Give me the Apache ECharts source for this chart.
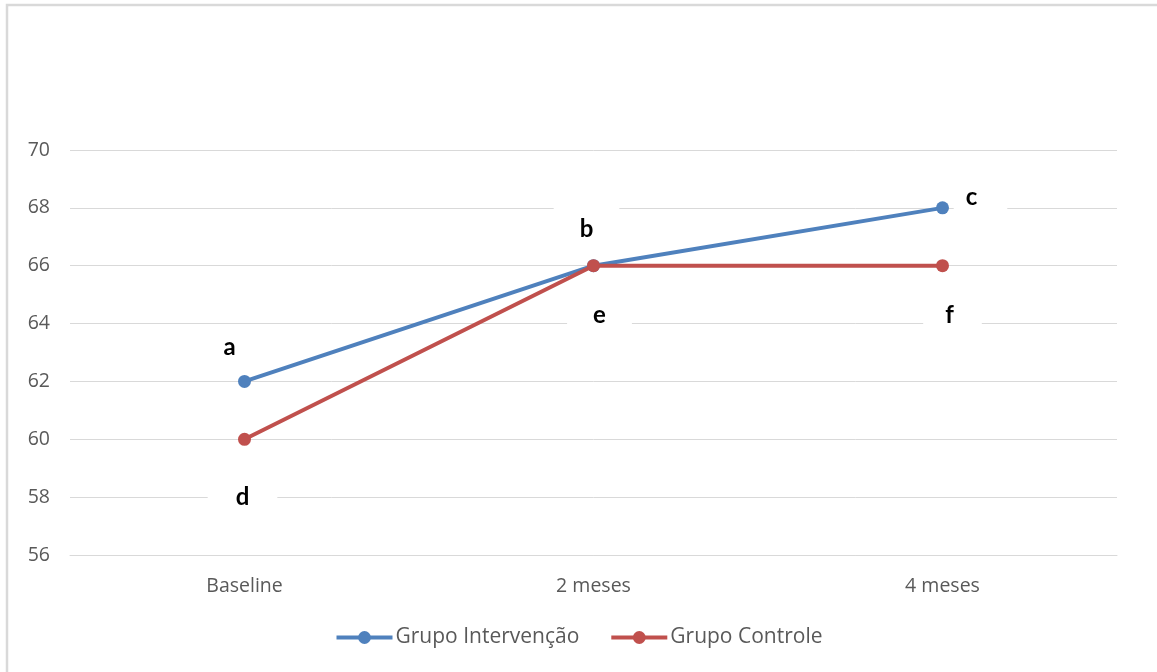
<!DOCTYPE html>
<html>
<head>
<meta charset="utf-8">
<script src="https://cdn.jsdelivr.net/npm/echarts@6/dist/echarts.min.js"></script>
<style>
  html, body { margin: 0; padding: 0; background: #fff; }
  #chart { width: 1157px; height: 672px; }
</style>
</head>
<body>
<div id="chart"></div>
<script>
// Time points and mean scores for both groups
const categories = ['Baseline', '2 meses', '4 meses'];
const intervencao = [62, 66, 68];
const controle = [60, 66, 66];
const letrasIntervencao = ['a', 'b', 'c'];
const letrasControle = ['d', 'e', 'f'];

// Where each letter box sits relative to its point, and its white padding
const offsetsIntervencao = [[-15, -34], [-7, -36], [38, -11]];
const offsetsControle = [[-2, 58], [6, 50], [10, 50]];
const paddingIntervencao = [[12, 20, 10, 20], [12, 26, 10, 26], [12, 30, 12, 12]];
const paddingControle = [[10, 28, 10, 28], [12, 26, 12, 26], [12, 28, 12, 22]];

const FONT = '"Open Sans", Lato, sans-serif';
const LABEL_FONT = 'Lato, "Open Sans", sans-serif';

function withLetters(values, letters, offsets, paddings) {
  return values.map((v, i) => ({
    value: v,
    label: {
      show: true,
      formatter: letters[i],
      position: 'inside',
      offset: offsets[i],
      color: '#000',
      fontFamily: LABEL_FONT,
      fontWeight: 'bold',
      fontSize: 24,
      lineHeight: 24,
      backgroundColor: '#fff',
      padding: paddings[i]
    }
  }));
}

const chart = echarts.init(document.getElementById('chart'), null, { renderer: 'canvas' });

chart.setOption({
  backgroundColor: '#fff',
  animation: false,
  graphic: [{
    type: 'polyline',
    shape: { points: [[7, 700], [7, 5], [1200, 5]] },
    style: { stroke: '#D9D9D9', lineWidth: 2.5, fill: null },
    silent: true
  }],
  grid: { left: 70, right: 40, top: 150, bottom: 117 },
  legend: {
    bottom: 19,
    left: 'center',
    itemWidth: 56,
    itemHeight: 16,
    itemGap: 30,
    lineStyle: { width: 4 },
    textStyle: { color: '#595959', fontSize: 21, fontFamily: FONT, padding: [0, 0, 0, -2] },
    data: ['Grupo Intervenção', 'Grupo Controle']
  },
  xAxis: {
    type: 'category',
    data: categories,
    boundaryGap: true,
    axisLine: { show: true, lineStyle: { color: '#D9D9D9', width: 1 } },
    axisTick: { show: false },
    axisLabel: { color: '#595959', fontSize: 19.5, fontFamily: FONT, margin: 21 }
  },
  yAxis: {
    type: 'value',
    min: 56,
    max: 70,
    interval: 2,
    axisLine: { show: false },
    axisTick: { show: false },
    axisLabel: { color: '#595959', fontSize: 19.5, fontFamily: FONT, margin: 20 },
    splitLine: { lineStyle: { color: '#D9D9D9', width: 1 } }
  },
  series: [
    {
      name: 'Grupo Intervenção',
      type: 'line',
      data: withLetters(intervencao, letrasIntervencao, offsetsIntervencao, paddingIntervencao),
      symbol: 'circle',
      symbolSize: 13,
      lineStyle: { color: '#4F81BD', width: 4 },
      itemStyle: { color: '#4F81BD' },
      z: 3
    },
    {
      name: 'Grupo Controle',
      type: 'line',
      data: withLetters(controle, letrasControle, offsetsControle, paddingControle),
      symbol: 'circle',
      symbolSize: 13,
      lineStyle: { color: '#C0504D', width: 4 },
      itemStyle: { color: '#C0504D' },
      z: 4
    }
  ]
});
</script>
</body>
</html>
